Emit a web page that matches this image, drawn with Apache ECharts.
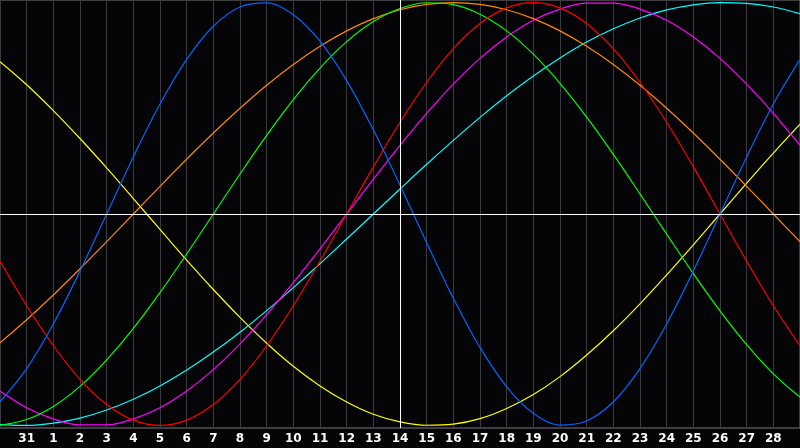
<!DOCTYPE html>
<html>
<head>
<meta charset="utf-8">
<script src="https://cdn.jsdelivr.net/npm/echarts@6/dist/echarts.min.js"></script>
<style>
html,body{margin:0;padding:0;background:#050508;}
#chart{width:800px;height:448px;}
</style>
</head>
<body>
<div id="chart"></div>
<script>
// Day labels across the chart (prev. month 30, 31, then 1..29); first and last are not labelled
const days = ['30','31','1','2','3','4','5','6','7','8','9','10','11','12','13','14','15','16','17','18','19','20','21','22','23','24','25','26','27','28','29'];
const today = '14';

const physical = [-0.888,-0.731,-0.520,-0.270,0,0.270,0.520,0.731,0.888,0.979,0.998,0.942,0.817,0.631,0.398,0.136,-0.136,-0.398,-0.631,-0.817,-0.942,-0.998,-0.979,-0.888,-0.731,-0.520,-0.270,0,0.270,0.520,0.731];
const emotional = [-0.223,-0.434,-0.623,-0.782,-0.901,-0.975,-1,-0.975,-0.901,-0.782,-0.623,-0.434,-0.223,0,0.223,0.434,0.623,0.782,0.901,0.975,1,0.975,0.901,0.782,0.623,0.434,0.223,0,-0.223,-0.434,-0.623];
const intellectual = [-0.999,-0.972,-0.910,-0.815,-0.690,-0.541,-0.372,-0.189,0,0.189,0.372,0.541,0.690,0.815,0.910,0.972,0.999,0.990,0.945,0.866,0.756,0.618,0.458,0.282,0.095,-0.095,-0.282,-0.458,-0.618,-0.756,-0.866];
const intuitive = [-0.837,-0.916,-0.969,-0.997,-0.997,-0.969,-0.916,-0.837,-0.736,-0.614,-0.476,-0.325,-0.165,0,0.165,0.325,0.476,0.614,0.736,0.837,0.916,0.969,0.997,0.997,0.969,0.916,0.837,0.736,0.614,0.476,0.325];
const aesthetic = [0.720,0.611,0.489,0.357,0.218,0.073,-0.073,-0.218,-0.357,-0.489,-0.611,-0.720,-0.813,-0.889,-0.947,-0.983,-0.999,-0.994,-0.968,-0.920,-0.854,-0.769,-0.667,-0.552,-0.425,-0.288,-0.146,0,0.146,0.288,0.425];
const awareness = [-0.609,-0.500,-0.383,-0.259,-0.131,0,0.131,0.259,0.383,0.500,0.609,0.707,0.793,0.866,0.924,0.966,0.991,1,0.991,0.966,0.924,0.866,0.793,0.707,0.609,0.500,0.383,0.259,0.131,0,-0.131];
const spiritual = [-0.996,-1.000,-0.989,-0.965,-0.927,-0.876,-0.813,-0.738,-0.653,-0.559,-0.457,-0.348,-0.235,-0.118,0,0.118,0.235,0.348,0.457,0.559,0.653,0.738,0.813,0.876,0.927,0.965,0.989,1.000,0.996,0.979,0.947];

const curves = [
  {name:'Aesthetic', data:aesthetic, color:'#ffff00'},
  {name:'Spiritual', data:spiritual, color:'#00ffff'},
  {name:'Intuitive', data:intuitive, color:'#ff00ff'},
  {name:'Awareness', data:awareness, color:'#ff8800'},
  {name:'Intellectual', data:intellectual, color:'#00ff00'},
  {name:'Emotional', data:emotional, color:'#ff0000'},
  {name:'Physical', data:physical, color:'#0066ff'}
];

const chart = echarts.init(document.getElementById('chart'), null, {renderer:'canvas'});

const series = curves.map(c => ({
  name: c.name,
  type: 'line',
  data: c.data,
  smooth: 0.35,
  showSymbol: false,
  symbol: 'none',
  lineStyle: {color: c.color, width: 1.2},
  itemStyle: {color: c.color},
  animation: false,
  z: 3
}));

series.push({
  type: 'line',
  data: [],
  silent: true,
  animation: false,
  z: 5,
  markLine: {
    silent: true,
    symbol: ['none','none'],
    label: {show:false},
    animation: false,
    lineStyle: {color:'#ffffff', width:1, type:'solid', opacity:1},
    data: [{yAxis: 0}, {xAxis: today}]
  }
});

chart.setOption({
  backgroundColor: '#050508',
  animation: false,
  grid: {left: 0, right: 0, top: 0, bottom: 20, show: true, borderColor: '#7a7a7a', borderWidth: 1, backgroundColor: 'transparent'},
  xAxis: {
    type: 'category',
    data: days,
    boundaryGap: false,
    axisLine: {show: true, lineStyle: {color: '#9a9a9a', width: 1}},
    axisTick: {show: false},
    axisLabel: {
      interval: (i) => i > 0 && i < days.length - 1,
      color: '#ffffff',
      fontWeight: 'bold',
      fontSize: 12,
      fontFamily: 'DejaVu Sans',
      margin: 5
    },
    splitLine: {show: true, interval: 0, lineStyle: {color: '#3a3a3e', width: 1}}
  },
  yAxis: {
    type: 'value',
    min: -1.012,
    max: 1.012,
    axisLine: {show: false},
    axisTick: {show: false},
    axisLabel: {show: false},
    splitLine: {show: false}
  },
  series: series
});
</script>
</body>
</html>
